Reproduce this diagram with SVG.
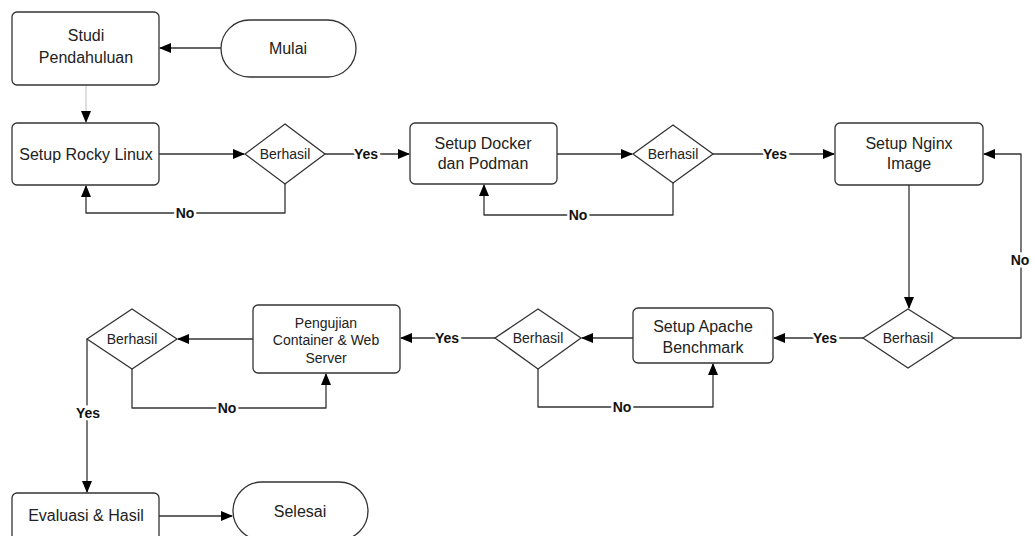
<svg xmlns="http://www.w3.org/2000/svg" width="1035" height="536" viewBox="0 0 1035 536">
<style>
.box{fill:#fff;stroke:#333;stroke-width:1.3}
.t{font-family:"Liberation Sans",Arial,sans-serif;font-size:16px;fill:#222;text-anchor:middle}
.ts{font-family:"Liberation Sans",Arial,sans-serif;font-size:14px;fill:#222;text-anchor:middle}
.tm{font-family:"Liberation Sans",Arial,sans-serif;font-size:14px;fill:#222;text-anchor:middle}
.c{fill:none;stroke:#333;stroke-width:1.3;stroke-linejoin:round}
.lbl{font-family:"Liberation Sans",Arial,sans-serif;font-size:14px;font-weight:bold;fill:#111;text-anchor:middle;stroke:#fff;stroke-width:5;paint-order:stroke}
</style>
<defs>
<marker id="ah" markerWidth="12" markerHeight="10" refX="11" refY="5" orient="auto" markerUnits="userSpaceOnUse">
<path d="M0,0 L12,5 L0,10 Z" fill="#000"/>
</marker>
</defs>
<rect width="1035" height="536" fill="#fff"/>
<g id="connectors">
<path class="c" d="M221,48 H160" marker-end="url(#ah)"/>
<path class="c" d="M86,86 V122" style="stroke:#ccc" marker-end="url(#ah)"/>
<path class="c" d="M159,154 H244" marker-end="url(#ah)"/>
<path class="c" d="M325,154 H409" marker-end="url(#ah)"/>
<path class="c" d="M285,184 V213 H86 V186" marker-end="url(#ah)"/>
<path class="c" d="M557,154 H632" marker-end="url(#ah)"/>
<path class="c" d="M713,154 H834" marker-end="url(#ah)"/>
<path class="c" d="M673,183 V215 H484 V185" marker-end="url(#ah)"/>
<path class="c" d="M909,185 V308" marker-end="url(#ah)"/>
<path class="c" d="M954,338 H1021 V154 H984" marker-end="url(#ah)"/>
<path class="c" d="M863,338 H774" marker-end="url(#ah)"/>
<path class="c" d="M633,338 H582" marker-end="url(#ah)"/>
<path class="c" d="M538,369 V407 H713 V364" marker-end="url(#ah)"/>
<path class="c" d="M495,338 H401" marker-end="url(#ah)"/>
<path class="c" d="M253,339 H178" marker-end="url(#ah)"/>
<path class="c" d="M132,369 V408 H326 V374" marker-end="url(#ah)"/>
<path class="c" d="M87,339 V492" marker-end="url(#ah)"/>
<path class="c" d="M159,516 H232" marker-end="url(#ah)"/>
<text class="lbl" x="366" y="159">Yes</text>
<text class="lbl" x="185" y="218">No</text>
<text class="lbl" x="775" y="159">Yes</text>
<text class="lbl" x="578" y="220">No</text>
<text class="lbl" x="1020" y="265">No</text>
<text class="lbl" x="825" y="343">Yes</text>
<text class="lbl" x="447" y="343">Yes</text>
<text class="lbl" x="622" y="412">No</text>
<text class="lbl" x="227" y="413">No</text>
<text class="lbl" x="88" y="418">Yes</text>
</g>
<g id="studi"><rect class="box" x="12" y="12" width="147" height="73" rx="5"/><text class="t" x="86" y="41">Studi</text><text class="t" x="86" y="63">Pendahuluan</text></g>
<g id="mulai"><rect class="box" x="221" y="20" width="135" height="57" rx="28.5"/><text class="t" x="288" y="54">Mulai</text></g>
<g id="rocky"><rect class="box" x="12" y="123" width="147" height="62" rx="5"/><text class="t" x="86" y="160">Setup Rocky Linux</text></g>
<g id="d1"><path class="box" d="M285,124 L325,154 L285,184 L245,154 Z"/><text class="ts" x="285" y="159">Berhasil</text></g>
<g id="docker"><rect class="box" x="410" y="123" width="147" height="61" rx="5"/><text class="t" x="483" y="149">Setup Docker</text><text class="t" x="483" y="169">dan Podman</text></g>
<g id="d2"><path class="box" d="M673,125 L713,154 L673,183 L633,154 Z"/><text class="ts" x="673" y="159">Berhasil</text></g>
<g id="nginx"><rect class="box" x="835" y="123" width="148" height="62" rx="5"/><text class="t" x="909" y="149">Setup Nginx</text><text class="t" x="909" y="169">Image</text></g>
<g id="d4"><path class="box" d="M908,309 L954,338 L908,368 L863,338 Z"/><text class="ts" x="908" y="343">Berhasil</text></g>
<g id="apache"><rect class="box" x="633" y="308" width="140" height="55" rx="5"/><text class="t" x="703" y="332">Setup Apache</text><text class="t" x="703" y="353">Benchmark</text></g>
<g id="d3"><path class="box" d="M538,309 L581,338 L538,369 L495,338 Z"/><text class="ts" x="538" y="343">Berhasil</text></g>
<g id="pengujian"><rect class="box" x="253" y="305" width="147" height="68" rx="5"/><text class="tm" x="326" y="328">Pengujian</text><text class="tm" x="326" y="345">Container &amp; Web</text><text class="tm" x="326" y="363">Server</text></g>
<g id="d5"><path class="box" d="M132,309 L177,339 L132,369 L87,339 Z"/><text class="ts" x="132" y="344">Berhasil</text></g>
<g id="evaluasi"><rect class="box" x="12" y="493" width="147" height="50" rx="5"/><text class="t" x="86" y="521">Evaluasi &amp; Hasil</text></g>
<g id="selesai"><rect class="box" x="233" y="482" width="135" height="58" rx="29"/><text class="t" x="300" y="517">Selesai</text></g>
</svg>
